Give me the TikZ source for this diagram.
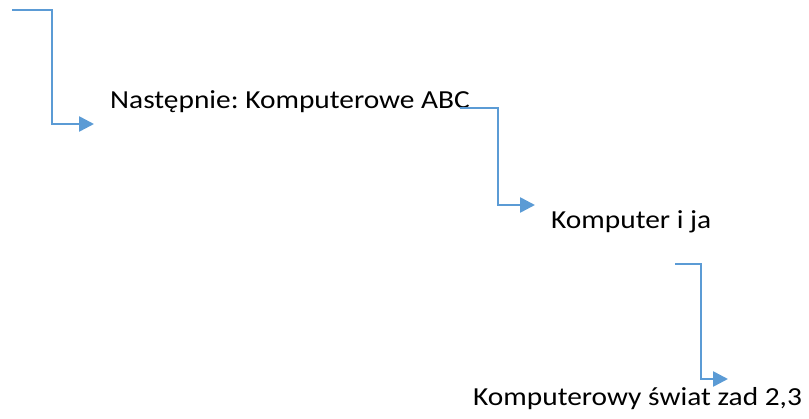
\documentclass[tikz,border=0pt]{standalone}
\usepackage{fontspec}
\setmainfont{Carlito}[FakeStretch=1.13]
\usetikzlibrary{arrows.meta}
\definecolor{flowblue}{HTML}{5B9BD5}
\frenchspacing
\begin{document}
\begin{tikzpicture}[x=1pt,y=-1pt,
  lbl/.style={anchor=base west,inner sep=0pt,font=\fontsize{26}{30}\selectfont},
  conn/.style={draw=flowblue,line width=2.6pt,-{Triangle[length=15pt,width=15pt]}}]
\useasboundingbox (0,0) rectangle (809,419);
\node[lbl] (t1) at (110,109) {Następnie: Komputerowe ABC};
\node[lbl] (t2) at (551,229) {Komputer i ja};
\node[lbl] (t3) at (473,406) {Komputerowy świat zad 2,3};
\coordinate (s1) at (12,10);
\coordinate (e1) at (94,124);
\coordinate (s2) at (460,108);
\coordinate (e2) at (535,205);
\coordinate (s3) at (675,264);
\coordinate (e3) at (728,379);
\draw[conn] (s1) -- (52,10) -- (52,124) -- (e1);
\draw[conn] (s2) -- (498,108) -- (498,205) -- (e2);
\draw[conn] (s3) -- (701,264) -- (701,379) -- (e3);
\end{tikzpicture}
\end{document}
